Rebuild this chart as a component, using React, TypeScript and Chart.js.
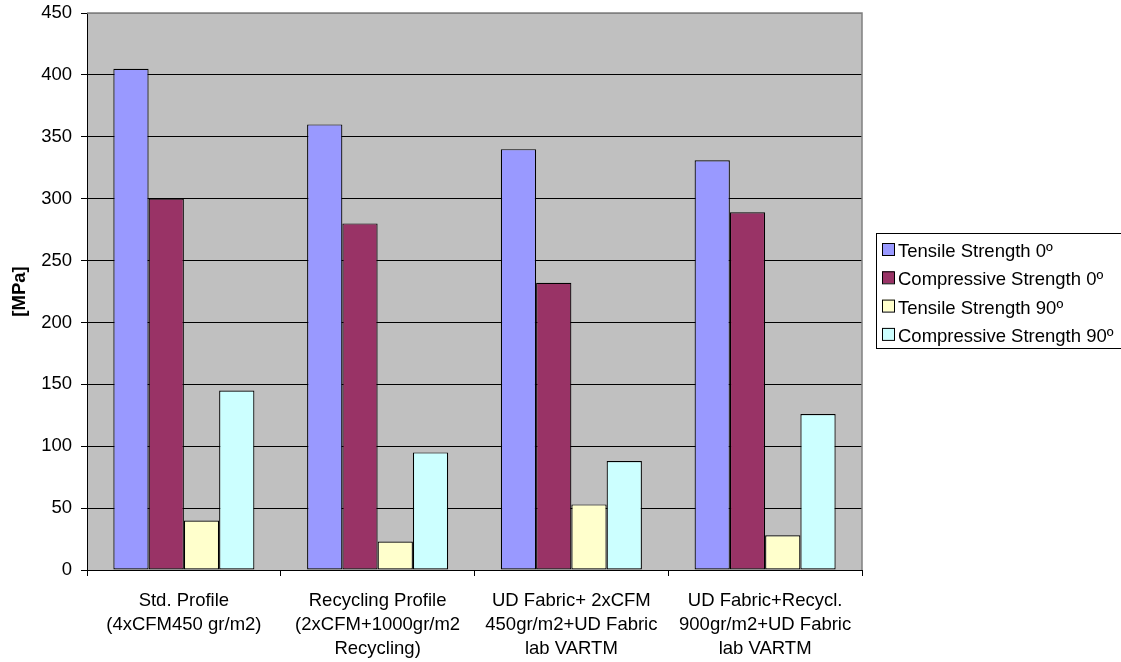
import React, { useEffect, useRef } from "react";
import { Chart, registerables } from "chart.js";

Chart.register(...registerables);

const categories: string[][] = [
  ["Std. Profile", "(4xCFM450 gr/m2)"],
  ["Recycling Profile", "(2xCFM+1000gr/m2", "Recycling)"],
  ["UD Fabric+ 2xCFM", "450gr/m2+UD Fabric", "lab VARTM"],
  ["UD Fabric+Recycl.", "900gr/m2+UD Fabric", "lab VARTM"],
];
const seriesNames = [
  "Tensile Strength 0º",
  "Compressive Strength 0º",
  "Tensile Strength 90º",
  "Compressive Strength 90º",
];
const tensile0 = [405, 360, 340, 331];
const compressive0 = [300, 280, 232, 289];
const tensile90 = [40, 23, 53, 28];
const compressive90 = [145, 95, 88, 126];
const seriesColors = ["#9999FF", "#993366", "#FFFFCC", "#CCFFFF"];
const yTitle = "[MPa]";
const yMax = 450;

const FONT = "'Liberation Sans', Arial, sans-serif";

const plotBg = {
  id: "plotBg",
  beforeDraw(chart: any) {
    const { ctx, chartArea } = chart;
    ctx.save();
    ctx.fillStyle = "#C0C0C0";
    ctx.fillRect(chartArea.left, chartArea.top, chartArea.right - chartArea.left, chartArea.bottom - chartArea.top);
    ctx.restore();
  },
  afterDatasetsDraw(chart: any) {
    const { ctx, chartArea } = chart;
    ctx.save();
    ctx.strokeStyle = "#808080";
    ctx.lineWidth = 1.5;
    ctx.beginPath();
    ctx.moveTo(chartArea.left, chartArea.top);
    ctx.lineTo(chartArea.right, chartArea.top);
    ctx.lineTo(chartArea.right, chartArea.bottom);
    ctx.stroke();
    ctx.restore();
  },
};

const boxLegend = {
  id: "boxLegend",
  afterDraw(chart: any) {
    const { ctx } = chart;
    const x0 = 876;
    const y0 = 233;
    ctx.save();
    ctx.fillStyle = "#FFFFFF";
    ctx.fillRect(x0, y0, 250, 115);
    ctx.strokeStyle = "#000000";
    ctx.lineWidth = 1;
    ctx.strokeRect(x0 + 0.5, y0 + 0.5, 250, 115);
    ctx.font = `18.5px ${FONT}`;
    ctx.textBaseline = "middle";
    chart.data.datasets.forEach((ds: any, i: number) => {
      const cy = 251 + i * 28.3;
      ctx.fillStyle = ds.backgroundColor;
      ctx.fillRect(882, cy - 8, 12, 12);
      ctx.strokeStyle = "#000";
      ctx.strokeRect(882.5, cy - 7.5, 12, 12);
      ctx.fillStyle = "#000";
      ctx.fillText(ds.label, 898, cy + 1);
    });
    ctx.restore();
  },
};

export default function App() {
  const ref = useRef<HTMLCanvasElement>(null);
  useEffect(() => {
    if (!ref.current) return;
    const values = [tensile0, compressive0, tensile90, compressive90];
    const chart = new Chart(ref.current, {
      type: "bar",
      data: {
        labels: categories,
        datasets: seriesNames.map((name, i) => ({
          label: name,
          data: values[i],
          backgroundColor: seriesColors[i],
          borderColor: "#000000",
          borderWidth: 1.2,
          borderSkipped: false,
          categoryPercentage: 0.728,
          barPercentage: 1,
        })),
      },
      options: {
        animation: false,
        responsive: false,
        maintainAspectRatio: false,
        layout: { padding: { left: 0, top: 13, right: 259, bottom: 0 } },
        plugins: {
          legend: { display: false },
          tooltip: { enabled: false },
        },
        scales: {
          x: {
            grid: {
              display: true,
              drawOnChartArea: false,
              drawTicks: true,
              tickLength: 6,
              tickColor: "#000",
              offset: true,
            },
            border: { display: true, color: "#000", width: 1 },
            ticks: {
              color: "#000",
              font: { family: FONT, size: 18.5, lineHeight: 1.3 },
              padding: 13,
              maxRotation: 0,
              autoSkip: false,
            },
            afterFit(scale: any) {
              scale.height = 92;
              scale.paddingLeft = 0;
              scale.paddingRight = 0;
            },
          },
          y: {
            min: 0,
            max: yMax,
            ticks: {
              stepSize: 50,
              color: "#000",
              font: { family: FONT, size: 18.5 },
              padding: 9,
            },
            grid: {
              color: (c: any) => (c.tick && c.tick.value === yMax ? "#808080" : "#000"),
              lineWidth: 1,
              drawTicks: true,
              tickLength: 6,
              tickColor: "#000",
            },
            border: { display: true, color: "#000", width: 1 },
            title: {
              display: true,
              text: yTitle,
              color: "#000",
              font: { family: FONT, size: 18.5, weight: "bold" },
              padding: { top: 9, bottom: 0 },
            },
            afterFit(scale: any) {
              scale.width = 87;
              scale.paddingTop = 0;
              scale.paddingBottom = 0;
            },
          },
        },
      },
      plugins: [plotBg, boxLegend],
    } as any);
    return () => chart.destroy();
  }, []);
  return (
    <div style={{ position: "fixed", left: 0, top: 0, width: 1121, height: 662, background: "#fff" }}>
      <canvas ref={ref} width={1121} height={662} style={{ display: "block" }} />
    </div>
  );
}
